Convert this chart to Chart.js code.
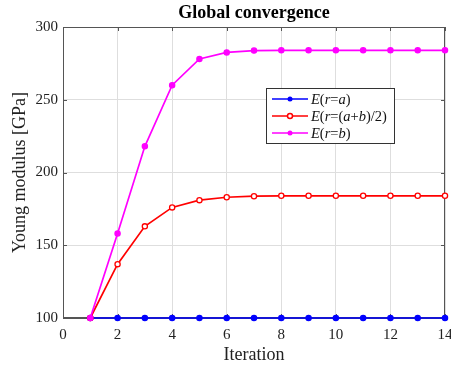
<!DOCTYPE html>
<html><head><meta charset="utf-8">
<script src="https://cdn.jsdelivr.net/npm/chart.js@4.4.1/dist/chart.umd.min.js"></script>
<style>html,body{margin:0;padding:0;background:#fff}#wrap{width:451px;height:370px}</style>
</head><body><div id="wrap"><canvas id="c" width="451" height="370"></canvas></div>
<script>
const iterations = [1,2,3,4,5,6,7,8,9,10,11,12,13,14];
const eA   = [100,100,100,100,100,100,100,100,100,100,100,100,100,100];
const eMid = [100,137,163,176,181,183,183.7,184,184,184,184,184,184,184];
const eB   = [100,158,218,260,278,282.5,283.8,284,284,284,284,284,284,284];
const xTicks = [0,2,4,6,8,10,12,14];
const yTicks = [100,150,200,250,300];
const chartTitle = 'Global convergence';
const seriesNames = [['E','(','r','=','a',')'], ['E','(','r','=(','a','+','b',')/2)'], ['E','(','r','=','b',')']];
const seriesColors = ['#0000ff','#ff0000','#ff00ff'];

const serif = '"Liberation Serif","DejaVu Serif",serif';
const axisColor = '#555';

const frame = {
  id:'frame',
  beforeDatasetsDraw(chart){
    const {ctx, chartArea:a, scales:{x,y}} = chart;
    ctx.save();
    ctx.strokeStyle = axisColor; ctx.lineWidth = 1;
    ctx.strokeRect(a.left+0.5, a.top+0.5, a.right-a.left-1, a.bottom-a.top-1);
    ctx.beginPath();
    xTicks.forEach(v=>{const px=Math.round(x.getPixelForValue(v))+0.5;
      ctx.moveTo(px,a.bottom); ctx.lineTo(px,a.bottom-4);
      ctx.moveTo(px,a.top); ctx.lineTo(px,a.top+4);});
    yTicks.forEach(v=>{const py=Math.round(y.getPixelForValue(v))+0.5;
      ctx.moveTo(a.left,py); ctx.lineTo(a.left+4,py);
      ctx.moveTo(a.right,py); ctx.lineTo(a.right-4,py);});
    ctx.stroke();
    ctx.restore();
  },
  afterDraw(chart){
    const {ctx, chartArea:a} = chart;
    ctx.save();
    ctx.fillStyle='#000'; ctx.textAlign='center'; ctx.textBaseline='middle';
    ctx.font='bold 18px '+serif;
    ctx.fillText(chartTitle,(a.left+a.right)/2,13);
    ctx.textAlign='left';
    const bx=266, by=88, bw=128, bh=55;
    ctx.fillStyle='#fff'; ctx.fillRect(bx,by,bw,bh);
    ctx.strokeStyle='#333'; ctx.lineWidth=1; ctx.strokeRect(bx+0.5,by+0.5,bw,bh);
    const rows=[99,116,133];
    rows.forEach((ry,i)=>{
      ctx.strokeStyle=seriesColors[i]; ctx.lineWidth=1.5;
      ctx.beginPath(); ctx.moveTo(272,ry); ctx.lineTo(308,ry); ctx.stroke();
      ctx.beginPath(); ctx.arc(290,ry,2.5,0,Math.PI*2);
      if(i===1){ctx.fillStyle='#fff';ctx.fill();ctx.stroke();}
      else {ctx.fillStyle=seriesColors[i];ctx.fill();}
      let tx=311;
      ctx.fillStyle='#111'; ctx.textBaseline='middle';
      seriesNames[i].forEach((s)=>{
        const italic = /^[Erab]$/.test(s);
        ctx.font=(italic?'italic ':'')+'14.5px '+serif;
        ctx.fillText(s,tx,ry+1);
        tx+=ctx.measureText(s).width;
      });
    });
    ctx.restore();
  }
};

const mk=(label,data,color,hollow)=>({label,data:iterations.map((it,i)=>({x:it,y:data[i]})),
  borderColor:color, backgroundColor:hollow?'#fff':color, pointBorderColor:color,
  pointBackgroundColor:hollow?'#fff':color, borderWidth:1.7, pointRadius:2.6, pointBorderWidth:1.3,
  pointHoverRadius:2.6, tension:0, fill:false, clip:false});

new Chart(document.getElementById('c'),{
  type:'line',
  data:{datasets:[
    mk('E(r=b)',eB,seriesColors[2],false),
    mk('E(r=(a+b)/2)',eMid,seriesColors[1],true),
    mk('E(r=a)',eA,seriesColors[0],false)
  ]},
  options:{
    responsive:false, animation:false, devicePixelRatio:1,
    layout:{padding:{left:0,right:6,top:27,bottom:0}},
    plugins:{ legend:{display:false}, tooltip:{enabled:false}, title:{display:false} },
    scales:{
      x:{type:'linear',min:0,max:14,
        afterBuildTicks(s){s.ticks=xTicks.map(v=>({value:v}));},
        afterFit(s){s.height=52; s.paddingLeft=0; s.paddingRight=0;},
        ticks:{color:'#222',font:{family:serif,size:15},padding:8},
        grid:{color:'#dedede',drawTicks:false},
        border:{color:axisColor},
        title:{display:true,text:'Iteration',color:'#222',font:{family:serif,size:18},padding:{top:0,bottom:4}}
      },
      y:{min:100,max:300,
        afterBuildTicks(s){s.ticks=yTicks.map(v=>({value:v}));},
        afterFit(s){s.width=63; s.paddingTop=0; s.paddingBottom=0;},
        ticks:{color:'#222',font:{family:serif,size:15},padding:5},
        grid:{color:'#dedede',drawTicks:false},
        border:{color:axisColor},
        title:{display:true,text:'Young modulus [GPa]',color:'#222',font:{family:serif,size:18},padding:{top:9,bottom:0}}
      }
    }
  },
  plugins:[frame]
});
</script></body></html>
